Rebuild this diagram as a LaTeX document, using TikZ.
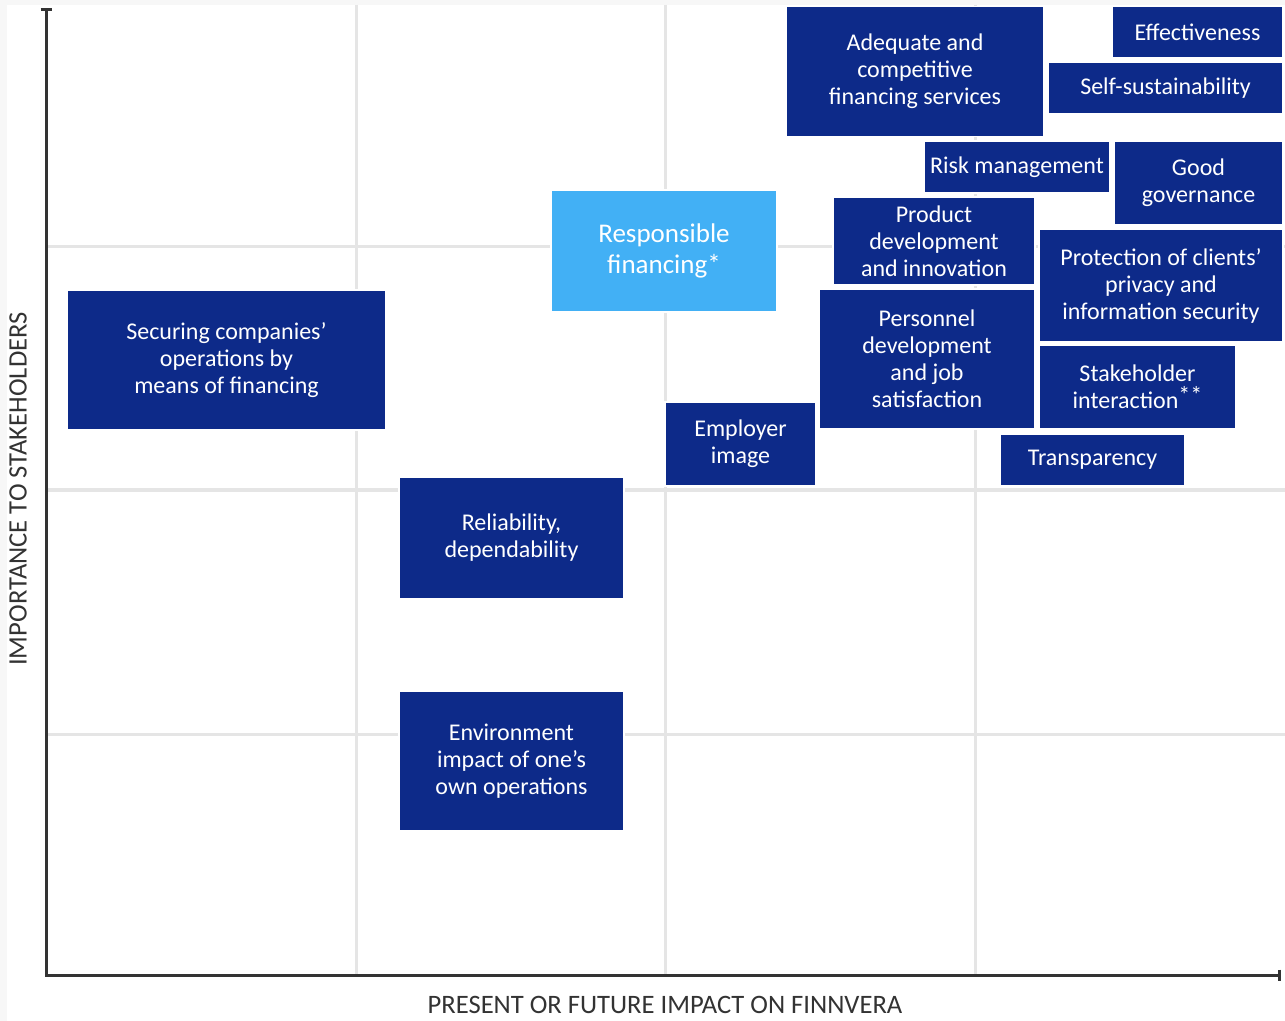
\documentclass[tikz,border=0pt]{standalone}
\usepackage{fontspec}
\setmainfont{Carlito}
\usetikzlibrary{arrows.meta}
\definecolor{finnblue}{RGB}{13,42,137}
\definecolor{lightfinn}{RGB}{66,176,245}
\definecolor{axisgray}{RGB}{51,51,51}
\tikzset{
  box/.style={fill=finnblue, draw=white, line width=0.6pt, text=white, align=center,
    inner sep=0pt, font=\fontsize{12}{13.5}\selectfont},
  hibox/.style={box, fill=lightfinn, font=\fontsize{13.5}{15.5}\selectfont},
  gridline/.style={draw=black!10, line width=1.5pt},
  axisline/.style={draw=axisgray, line width=1.5pt},
  axislabel/.style={text=axisgray, font=\fontsize{13.3}{15}\selectfont}
}
\begin{document}
\begin{tikzpicture}[x=0.5pt,y=-0.5pt]
  \useasboundingbox (0,0) rectangle (1285,1021);
  \fill[black!3] (0,0) rectangle (1285,1021);
  \fill[white] (7,5) rectangle (1285,1021);
  % grid
  \foreach \gx in {356,665,975} \draw[gridline] (\gx,5) -- (\gx,975);
  \foreach \gy in {247,490,734} \draw[gridline] (46,\gy) -- (1285,\gy);
  % axes
  \draw[axisline, {Bar[width=5.5pt]}-{Bar[width=5.5pt]}] (46,8) -- (46,975) -- (1281,975);
  \node[axislabel, rotate=90] (ylab) at (18,489) {IMPORTANCE TO STAKEHOLDERS};
  \node[axislabel] (xlab) at (665,1005) {PRESENT OR FUTURE IMPACT ON FINNVERA};
  % topics
  \node[box, minimum width=129pt, minimum height=65pt] (adequate) at (915,71.5) {Adequate and\\competitive\\financing services};
  \node[box, minimum width=85.5pt, minimum height=26pt] (effect) at (1197.5,32) {Effectiveness};
  \node[box, minimum width=117.5pt, minimum height=26pt] (selfsust) at (1165.5,88) {Self-sustainability};
  \node[box, minimum width=93pt, minimum height=26pt] (risk) at (1017,167) {Risk management};
  \node[box, minimum width=84.5pt, minimum height=42pt] (govern) at (1198.5,183) {Good\\governance};
  \node[box, minimum width=101pt, minimum height=44pt] (product) at (934,241) {Product\\development\\and innovation};
  \node[box, minimum width=122pt, minimum height=56.5pt] (privacy) at (1161,285.5) {Protection of clients'\\privacy and\\information security};
  \node[box, minimum width=108pt, minimum height=70pt] (personnel) at (927,359) {Personnel\\development\\and job\\satisfaction};
  \node[box, minimum width=98.5pt, minimum height=42pt] (stake) at (1137.5,387) {Stakeholder\\interaction\raisebox{0.45ex}{**}};
  \node[box, minimum width=92.5pt, minimum height=26pt] (transp) at (1092.5,460) {Transparency};
  \node[hibox, minimum width=113pt, minimum height=61pt] (respfin) at (664,251) {Responsible\\financing*};
  \node[box, minimum width=75.5pt, minimum height=42pt] (employer) at (740.5,444) {Employer\\image};
  \node[box, minimum width=159.5pt, minimum height=70pt] (securing) at (226.5,360) {Securing companies'\\operations by\\means of financing};
  \node[box, minimum width=112.5pt, minimum height=61pt] (reliab) at (511.5,538) {Reliability,\\dependability};
  \node[box, minimum width=112.5pt, minimum height=70pt] (environ) at (511.5,761) {Environment\\impact of one's\\own operations};
\end{tikzpicture}
\end{document}
